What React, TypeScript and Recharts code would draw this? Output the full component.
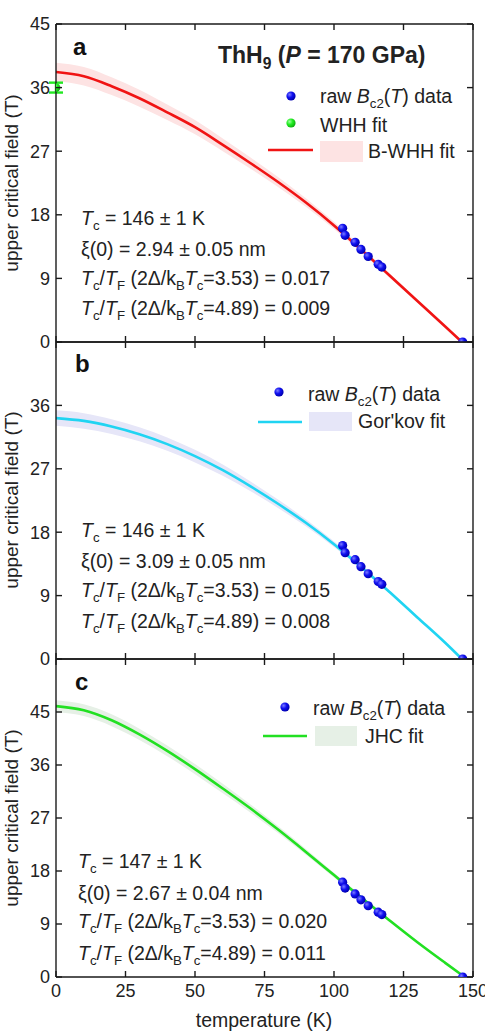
import React from 'react';
import { ComposedChart, Line, Area, Scatter, XAxis, YAxis, ErrorBar } from 'recharts';

const FONT = '"Liberation Sans", Arial, Helvetica, sans-serif';

// temperature grid of the fitted curves (K)
const tempAB = [0, 10, 20, 30, 40, 50, 60, 70, 80, 90, 100, 110, 120, 130, 140, 146];
const tempC = [0, 10, 20, 30, 40, 50, 60, 70, 80, 90, 100, 110, 120, 130, 140, 147];

// panel a: B-WHH fit and its confidence band half-width (T)
const bwhhFit = [38.2, 37.6, 36.2, 34.5, 32.5, 30.4, 27.9, 25.3, 22.6, 19.7, 16.5, 13.0, 9.4, 5.8, 2.2, 0];
const bwhhBand = [1.3, 1.3, 1.25, 1.2, 1.1, 1.0, 0.9, 0.8, 0.7, 0.6, 0.5, 0.4, 0.3, 0.2, 0.1, 0];

// panel b: Gor'kov fit
const gorkovFit = [34.2, 33.8, 33.0, 31.9, 30.5, 28.8, 26.8, 24.5, 22.0, 19.3, 16.3, 13.0, 9.5, 5.9, 2.3, 0];
const gorkovBand = [1.1, 1.1, 1.05, 1.0, 0.95, 0.9, 0.8, 0.7, 0.6, 0.5, 0.4, 0.3, 0.2, 0.15, 0.1, 0];

// panel c: JHC fit
const jhcFit = [46.0, 45.3, 43.6, 41.2, 38.4, 35.3, 32.0, 28.6, 25.0, 21.2, 17.3, 13.4, 9.6, 5.9, 2.4, 0];
const jhcBand = [1.0, 1.0, 1.0, 0.95, 0.9, 0.85, 0.8, 0.7, 0.6, 0.5, 0.4, 0.3, 0.2, 0.15, 0.1, 0];

// raw Bc2(T) data
const rawT = [103.1, 104.0, 107.6, 109.7, 112.3, 115.9, 117.2, 146.3];
const rawB = [16.1, 15.1, 14.1, 13.1, 12.1, 11.0, 10.6, 0];

// WHH estimate at T = 0
const whhT = [0];
const whhB = [36];
const whhErr = [0.7];

const xTicks = [0, 25, 50, 75, 100, 125, 150];
const yTicksA = [0, 9, 18, 27, 36, 45];
const yTicksB = [0, 9, 18, 27, 36];
const yTicksC = [0, 9, 18, 27, 36, 45];

const buildRows = (t: number[], fit: number[], band: number[]) =>
  t.map((x, i) => ({ t: x, b: fit[i], band: [fit[i] - band[i], fit[i] + band[i]] }));

const rawRows = rawT.map((t, i) => ({ t, b: rawB[i] }));
const whhRows = whhT.map((t, i) => ({ t, b: whhB[i], err: whhErr[i] }));

const AX = '#1a1a1a';
const TL = 6; // inward tick length

// ticks pointing into the plot; with tickSize 0 the given x/y sit on (or tickMargin off) the axis line
const LeftTick = (p: any) => (
  <g>
    <line x1={p.x + 6} x2={p.x + 6 + TL} y1={p.y} y2={p.y} stroke={AX} strokeWidth={1.4} />
    <text x={p.x} y={p.y} dy="0.35em" textAnchor="end" fontSize={18} fontFamily={FONT} fill="#222">
      {p.payload.value}
    </text>
  </g>
);
const RightTick = (p: any) => <line x1={p.x - TL} x2={p.x} y1={p.y} y2={p.y} stroke={AX} strokeWidth={1.4} />;
const TopTick = (p: any) => <line x1={p.x} x2={p.x} y1={p.y} y2={p.y + TL} stroke={AX} strokeWidth={1.4} />;
const BottomTick = (labels: boolean) => (p: any) => (
  <g>
    <line x1={p.x} x2={p.x} y1={p.y - TL} y2={p.y} stroke={AX} strokeWidth={1.4} />
    {labels && (
      <text x={p.x} y={p.y + 20} textAnchor="middle" fontSize={18} fontFamily={FONT} fill="#222">
        {p.payload.value}
      </text>
    )}
  </g>
);

const Ball = (props: any) => <circle cx={props.cx} cy={props.cy} r={4.6} fill="url(#blueBall)" />;
const GreenBall = (props: any) => <circle cx={props.cx} cy={props.cy} r={4.4} fill="url(#greenBall)" />;

interface PanelProps {
  top: number;
  height: number;
  marginTop: number;
  rows: any[];
  color: string;
  bandColor: string;
  yMax: number;
  yTicks: number[];
  labels: boolean;
  whh?: boolean;
}

const Panel: React.FC<PanelProps> = ({ top, height, marginTop, rows, color, bandColor, yMax, yTicks, labels, whh }) => (
  <div style={{ position: 'absolute', top, left: 0 }}>
    <ComposedChart width={485} height={height} margin={{ top: marginTop, right: 11, bottom: labels ? 0 : 15, left: 0 }}>
      <XAxis
        type="number"
        dataKey="t"
        domain={[0, 150]}
        ticks={xTicks}
        interval={0}
        height={labels ? 55 : 1}
        stroke={AX}
        strokeWidth={1.4}
        tickSize={0}
        tickMargin={0}
        tickLine={false}
        tick={BottomTick(labels)}
        allowDataOverflow
      />
      <XAxis
        xAxisId="top"
        type="number"
        dataKey="t"
        orientation="top"
        domain={[0, 150]}
        ticks={xTicks}
        interval={0}
        height={1}
        stroke={AX}
        strokeWidth={1.4}
        tickSize={0}
        tickMargin={0}
        tickLine={false}
        tick={TopTick}
      />
      <YAxis
        type="number"
        domain={[0, yMax]}
        ticks={yTicks}
        interval={0}
        width={56}
        stroke={AX}
        strokeWidth={1.4}
        tickSize={0}
        tickMargin={6}
        tickLine={false}
        tick={LeftTick}
        allowDataOverflow
      />
      <YAxis
        yAxisId="r"
        orientation="right"
        type="number"
        domain={[0, yMax]}
        ticks={yTicks}
        interval={0}
        width={1}
        stroke={AX}
        strokeWidth={1.4}
        tickSize={0}
        tickMargin={0}
        tickLine={false}
        tick={RightTick}
      />
      <Area data={rows} dataKey="band" type="monotone" stroke="none" fill={bandColor} fillOpacity={1} isAnimationActive={false} />
      <Line data={rows} dataKey="b" type="monotone" stroke={color} strokeWidth={2.6} dot={false} isAnimationActive={false} />
      {/* invisible series that keeps the mirrored top / right axes alive */}
      <Line data={rows} xAxisId="top" yAxisId="r" dataKey="b" stroke="none" dot={false} activeDot={false} isAnimationActive={false} />
      <Scatter data={rawRows} dataKey="b" shape={Ball} isAnimationActive={false} />
      {whh && (
        <Scatter data={whhRows} dataKey="b" shape={GreenBall} isAnimationActive={false}>
          <ErrorBar dataKey="err" direction="y" width={7} stroke="#22e822" strokeWidth={2.4} />
        </Scatter>
      )}
    </ComposedChart>
  </div>
);

type Seg = [string, 'n' | 'i' | 's'];

const Rich: React.FC<{ x: number; y: number; segs: Seg[]; size?: number; weight?: string }> = ({ x, y, segs, size = 19.5, weight }) => {
  let low = false;
  return (
    <text x={x} y={y} fontSize={size} fontFamily={FONT} fill="#222" fontWeight={weight}>
      {segs.map(([s, k], i) => {
        let dy = 0;
        if (k === 's' && !low) { dy = size * 0.28; low = true; }
        else if (k !== 's' && low) { dy = -size * 0.28; low = false; }
        return (
          <tspan key={i} dy={dy || undefined} fontStyle={k === 'i' ? 'italic' : undefined} fontSize={k === 's' ? size * 0.68 : undefined}>
            {s}
          </tspan>
        );
      })}
    </text>
  );
};

const stats = (tc: string, xi: string, r1: string, r2: string): Seg[][] => [
  [['T', 'i'], ['c', 's'], [` = ${tc} \u00b1 1 K`, 'n']],
  [[`\u03be(0) = ${xi} nm`, 'n']],
  [['T', 'i'], ['c', 's'], ['/', 'n'], ['T', 'i'], ['F', 's'], [' (2\u0394/k', 'n'], ['B', 's'], ['T', 'i'], ['c', 's'], [`=3.53) = ${r1}`, 'n']],
  [['T', 'i'], ['c', 's'], ['/', 'n'], ['T', 'i'], ['F', 's'], [' (2\u0394/k', 'n'], ['B', 's'], ['T', 'i'], ['c', 's'], [`=4.89) = ${r2}`, 'n']],
];

const rawLabel: Seg[] = [['raw ', 'n'], ['B', 'i'], ['c2', 's'], ['(', 'n'], ['T', 'i'], [') data', 'n']];

const StatBlock: React.FC<{ x: number; ys: number[]; lines: Seg[][] }> = ({ x, ys, lines }) => (
  <>
    {lines.map((l, i) => (
      <Rich key={i} x={x} y={ys[i]} segs={l} />
    ))}
  </>
);

const YLabel: React.FC<{ cy: number }> = ({ cy }) => (
  <text x={18} y={cy} transform={`rotate(-90 18 ${cy})`} textAnchor="middle" fontSize={19} fontFamily={FONT} fill="#222">
    upper critical field (T)
  </text>
);

const App: React.FC = () => {
  const rowsA = buildRows(tempAB, bwhhFit, bwhhBand);
  const rowsB = buildRows(tempAB, gorkovFit, gorkovBand);
  const rowsC = buildRows(tempC, jhcFit, jhcBand);

  return (
    <div style={{ position: 'absolute', top: 0, left: 0, width: 485, height: 1032, background: '#fff' }}>
      <Panel top={0} height={358} marginTop={23} rows={rowsA} color="#f01414" bandColor="#fde3e3" yMax={45} yTicks={yTicksA} labels={false} whh />
      <Panel top={334} height={341} marginTop={7} rows={rowsB} color="#20d4f2" bandColor="#e6e6f8" yMax={45} yTicks={yTicksB} labels={false} />
      <Panel top={651} height={381} marginTop={7} rows={rowsC} color="#22e022" bandColor="#e6f0e6" yMax={54} yTicks={yTicksC} labels />

      <svg width={485} height={1032} style={{ position: 'absolute', top: 0, left: 0, pointerEvents: 'none' }}>
        <defs>
          <radialGradient id="blueBall" cx="35%" cy="35%" r="65%">
            <stop offset="0%" stopColor="#7a7aff" />
            <stop offset="50%" stopColor="#1010f0" />
            <stop offset="100%" stopColor="#0000b0" />
          </radialGradient>
          <radialGradient id="greenBall" cx="35%" cy="35%" r="65%">
            <stop offset="0%" stopColor="#a0ffa0" />
            <stop offset="50%" stopColor="#22ee22" />
            <stop offset="100%" stopColor="#10b010" />
          </radialGradient>
        </defs>

        {/* panel a */}
        <text x={73} y={55} fontSize={24} fontWeight="bold" fontFamily={FONT} fill="#111">a</text>
        <Rich x={218} y={63} size={23} weight="bold" segs={[['ThH', 'n'], ['9', 's'], [' (', 'n'], ['P', 'i'], [' = 170 GPa)', 'n']]} />
        <circle cx={291} cy={96} r={4.6} fill="url(#blueBall)" />
        <Rich x={320} y={103} segs={rawLabel} />
        <circle cx={291} cy={123} r={4.6} fill="url(#greenBall)" />
        <Rich x={320} y={132} segs={[['WHH fit', 'n']]} />
        <line x1={268} x2={313} y1={150} y2={150} stroke="#f01414" strokeWidth={2.6} />
        <rect x={320} y={141} width={43} height={21} fill="#fde3e3" />
        <Rich x={368} y={158} segs={[['B-WHH fit', 'n']]} />
        <StatBlock x={81} ys={[225, 256, 285, 315]} lines={stats('146', '2.94 \u00b1 0.05', '0.017', '0.009')} />
        <YLabel cy={183} />

        {/* panel b */}
        <text x={75} y={372} fontSize={24} fontWeight="bold" fontFamily={FONT} fill="#111">b</text>
        <circle cx={279} cy={392} r={4.6} fill="url(#blueBall)" />
        <Rich x={308} y={401} segs={rawLabel} />
        <line x1={258} x2={302} y1={422} y2={422} stroke="#20d4f2" strokeWidth={2.6} />
        <rect x={309} y={412} width={43} height={19} fill="#e6e6f8" />
        <Rich x={358} y={428} segs={[["Gor'kov fit", 'n']]} />
        <StatBlock x={81} ys={[537, 568, 597, 628]} lines={stats('146', '3.09 \u00b1 0.05', '0.015', '0.008')} />
        <YLabel cy={500} />

        {/* panel c */}
        <text x={75} y={690} fontSize={24} fontWeight="bold" fontFamily={FONT} fill="#111">c</text>
        <circle cx={285} cy={707} r={4.6} fill="url(#blueBall)" />
        <Rich x={313} y={715} segs={rawLabel} />
        <line x1={263} x2={307} y1={736} y2={736} stroke="#22e022" strokeWidth={2.6} />
        <rect x={315} y={726} width={42} height={20} fill="#e6f0e6" />
        <Rich x={365} y={743} segs={[['JHC fit', 'n']]} />
        <StatBlock x={78} ys={[868, 900, 928, 960]} lines={stats('147', '2.67 \u00b1 0.04', '0.020', '0.011')} />
        <YLabel cy={818} />

        <text x={264} y={1027} textAnchor="middle" fontSize={19.5} fontFamily={FONT} fill="#222">temperature (K)</text>
      </svg>
    </div>
  );
};

export default App;
